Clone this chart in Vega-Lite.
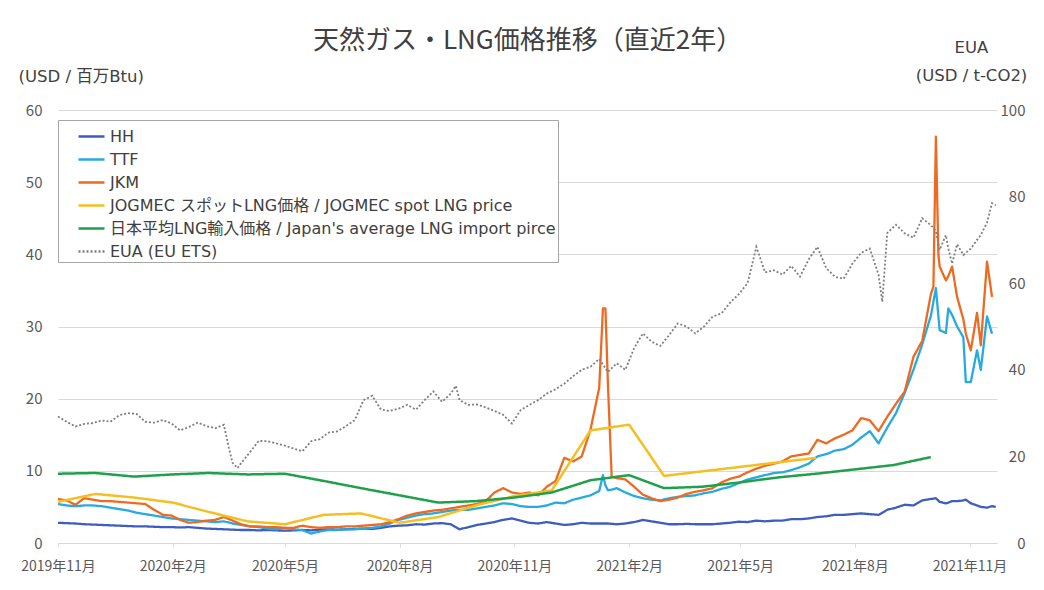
{
  "$schema": "https://vega.github.io/schema/vega-lite/v6.json",
  "width": 939,
  "height": 433,
  "autosize": {"type": "none"},
  "padding": {"left": 58, "top": 110, "right": 47, "bottom": 47},
  "background": "white",
  "title": {"text": "天然ガス・LNG価格推移（直近2年）", "frame": "group", "anchor": "middle", "offset": -15, "fontSize": 26, "fontWeight": "normal", "color": "#404040", "font": "Noto Sans CJK JP"},
  "config": {
    "font": "Noto Sans CJK JP",
    "view": {"stroke": null},
    "legend": {
      "orient": "none", "legendX": 0, "legendY": 10, "direction": "vertical",
      "strokeColor": "#a6a6a6", "fillColor": "white", "padding": 2,
      "symbolType": "stroke", "symbolSize": 676, "symbolStrokeWidth": 2.5, "symbolOffset": 17,
      "labelFont": "DejaVu Sans, Noto Sans CJK JP", "labelFontSize": 16, "labelColor": "#404040", "labelLimit": 700, "labelOffset": 4,
      "rowPadding": -1.5, "cornerRadius": 0
    }
  },
  "datasets": {
    "daily": [
      {"d":"2019-11-01","HH":2.8,"TTF":5.4,"JKM":6.1,"EUA":29.2},
      {"d":"2019-11-08","HH":2.75,"TTF":5.2,"JKM":5.9,"EUA":28.0},
      {"d":"2019-11-15","HH":2.7,"TTF":5.1,"JKM":5.3,"EUA":26.9},
      {"d":"2019-11-22","HH":2.6,"TTF":5.2,"JKM":6.2,"EUA":27.5},
      {"d":"2019-11-29","HH":2.55,"TTF":5.2,"JKM":6.0,"EUA":27.7},
      {"d":"2019-12-06","HH":2.5,"TTF":5.1,"JKM":5.8,"EUA":28.3},
      {"d":"2019-12-13","HH":2.45,"TTF":4.9,"JKM":5.8,"EUA":28.0},
      {"d":"2019-12-20","HH":2.4,"TTF":4.7,"JKM":5.7,"EUA":29.5},
      {"d":"2019-12-27","HH":2.35,"TTF":4.5,"JKM":5.6,"EUA":30.0},
      {"d":"2020-01-03","HH":2.3,"TTF":4.2,"JKM":5.5,"EUA":29.8},
      {"d":"2020-01-10","HH":2.3,"TTF":4.0,"JKM":5.4,"EUA":28.0},
      {"d":"2020-01-17","HH":2.25,"TTF":3.8,"JKM":4.6,"EUA":27.8},
      {"d":"2020-01-24","HH":2.2,"TTF":3.6,"JKM":3.9,"EUA":28.4},
      {"d":"2020-01-31","HH":2.2,"TTF":3.4,"JKM":3.8,"EUA":27.6},
      {"d":"2020-02-07","HH":2.15,"TTF":3.3,"JKM":3.2,"EUA":26.0},
      {"d":"2020-02-14","HH":2.2,"TTF":3.2,"JKM":2.8,"EUA":26.8},
      {"d":"2020-02-21","HH":2.1,"TTF":3.1,"JKM":2.9,"EUA":27.8},
      {"d":"2020-02-28","HH":2.0,"TTF":3.0,"JKM":3.1,"EUA":27.0},
      {"d":"2020-03-06","HH":1.95,"TTF":2.9,"JKM":3.2,"EUA":26.5},
      {"d":"2020-03-13","HH":1.9,"TTF":3.0,"JKM":3.6,"EUA":27.3},
      {"d":"2020-03-17","EUA":22.0},
      {"d":"2020-03-20","HH":1.85,"TTF":2.7,"JKM":3.1,"EUA":18.5},
      {"d":"2020-03-24","EUA":17.3},
      {"d":"2020-03-27","HH":1.8,"TTF":2.5,"JKM":2.6,"EUA":18.5},
      {"d":"2020-04-03","HH":1.8,"TTF":2.3,"JKM":2.3,"EUA":21.0},
      {"d":"2020-04-10","HH":1.75,"TTF":2.2,"JKM":2.3,"EUA":23.6},
      {"d":"2020-04-17","HH":1.8,"TTF":2.0,"JKM":2.2,"EUA":23.5},
      {"d":"2020-04-24","HH":1.75,"TTF":1.9,"JKM":2.2,"EUA":23.0},
      {"d":"2020-05-01","HH":1.7,"TTF":2.1,"JKM":2.1,"EUA":22.5},
      {"d":"2020-05-08","HH":1.75,"TTF":1.9,"JKM":2.1,"EUA":21.8},
      {"d":"2020-05-15","HH":1.8,"TTF":1.8,"JKM":2.4,"EUA":21.2},
      {"d":"2020-05-22","HH":1.75,"TTF":1.3,"JKM":2.2,"EUA":23.5},
      {"d":"2020-05-29","HH":1.85,"TTF":1.6,"JKM":2.1,"EUA":24.0},
      {"d":"2020-06-05","HH":1.9,"TTF":1.8,"JKM":2.2,"EUA":25.5},
      {"d":"2020-06-12","HH":1.85,"TTF":1.8,"JKM":2.2,"EUA":25.8},
      {"d":"2020-06-19","HH":1.9,"TTF":1.9,"JKM":2.3,"EUA":27.0},
      {"d":"2020-06-26","HH":1.95,"TTF":1.9,"JKM":2.3,"EUA":28.4},
      {"d":"2020-07-03","HH":2.0,"TTF":2.0,"JKM":2.4,"EUA":33.0},
      {"d":"2020-07-10","HH":1.95,"TTF":2.1,"JKM":2.5,"EUA":34.0},
      {"d":"2020-07-17","HH":2.1,"TTF":2.3,"JKM":2.6,"EUA":30.8},
      {"d":"2020-07-24","HH":2.3,"TTF":2.7,"JKM":2.9,"EUA":30.5},
      {"d":"2020-07-31","HH":2.4,"TTF":3.2,"JKM":3.3,"EUA":31.0},
      {"d":"2020-08-07","HH":2.45,"TTF":3.5,"JKM":3.8,"EUA":31.9},
      {"d":"2020-08-14","HH":2.6,"TTF":3.8,"JKM":4.1,"EUA":30.8},
      {"d":"2020-08-21","HH":2.55,"TTF":4.0,"JKM":4.3,"EUA":33.0},
      {"d":"2020-08-28","HH":2.7,"TTF":4.1,"JKM":4.5,"EUA":35.0},
      {"d":"2020-09-04","HH":2.75,"TTF":4.3,"JKM":4.6,"EUA":32.6},
      {"d":"2020-09-11","HH":2.6,"TTF":4.5,"JKM":4.8,"EUA":34.5},
      {"d":"2020-09-15","EUA":36.3},
      {"d":"2020-09-18","HH":1.9,"TTF":4.6,"JKM":5.0,"EUA":33.0},
      {"d":"2020-09-25","HH":2.2,"TTF":4.6,"JKM":5.2,"EUA":31.9},
      {"d":"2020-10-02","HH":2.5,"TTF":4.8,"JKM":5.4,"EUA":32.0},
      {"d":"2020-10-09","HH":2.7,"TTF":5.0,"JKM":5.8,"EUA":31.3},
      {"d":"2020-10-16","HH":2.9,"TTF":5.2,"JKM":7.0,"EUA":30.5},
      {"d":"2020-10-23","HH":3.2,"TTF":5.5,"JKM":7.6,"EUA":29.6},
      {"d":"2020-10-30","HH":3.4,"TTF":5.4,"JKM":7.0,"EUA":27.6},
      {"d":"2020-11-06","HH":3.1,"TTF":5.1,"JKM":6.8,"EUA":30.7},
      {"d":"2020-11-13","HH":2.8,"TTF":5.0,"JKM":7.0,"EUA":31.9},
      {"d":"2020-11-20","HH":2.7,"TTF":5.0,"JKM":6.6,"EUA":33.0},
      {"d":"2020-11-27","HH":2.9,"TTF":5.2,"JKM":7.8,"EUA":34.5},
      {"d":"2020-12-04","HH":2.7,"TTF":5.6,"JKM":8.6,"EUA":35.5},
      {"d":"2020-12-11","HH":2.5,"TTF":5.5,"JKM":11.8,"EUA":36.8},
      {"d":"2020-12-18","HH":2.6,"TTF":6.0,"JKM":11.3,"EUA":38.5},
      {"d":"2020-12-25","HH":2.8,"TTF":6.3,"JKM":12.0,"EUA":40.0},
      {"d":"2021-01-01","HH":2.7,"TTF":6.6,"JKM":15.7,"EUA":40.7},
      {"d":"2021-01-08","HH":2.7,"TTF":7.2,"JKM":21.5,"EUA":42.5},
      {"d":"2021-01-11","TTF":9.4,"JKM":32.5},
      {"d":"2021-01-13","TTF":8.0,"JKM":32.5},
      {"d":"2021-01-15","HH":2.7,"TTF":7.3,"JKM":22.0,"EUA":39.5},
      {"d":"2021-01-18","TTF":7.4,"JKM":9.2},
      {"d":"2021-01-22","HH":2.6,"TTF":7.6,"JKM":9.0,"EUA":41.5},
      {"d":"2021-01-29","HH":2.7,"TTF":7.0,"JKM":8.8,"EUA":40.0},
      {"d":"2021-02-05","HH":2.9,"TTF":6.5,"JKM":7.8,"EUA":45.0},
      {"d":"2021-02-12","HH":3.2,"TTF":6.2,"JKM":6.7,"EUA":48.4},
      {"d":"2021-02-19","HH":3.0,"TTF":6.0,"JKM":6.2,"EUA":46.5},
      {"d":"2021-02-26","HH":2.8,"TTF":5.9,"JKM":5.8,"EUA":45.5},
      {"d":"2021-03-05","HH":2.6,"TTF":6.2,"JKM":6.0,"EUA":48.0},
      {"d":"2021-03-12","HH":2.6,"TTF":6.4,"JKM":6.3,"EUA":50.7},
      {"d":"2021-03-19","HH":2.65,"TTF":6.5,"JKM":6.8,"EUA":50.0},
      {"d":"2021-03-26","HH":2.6,"TTF":6.6,"JKM":7.1,"EUA":48.4},
      {"d":"2021-04-02","HH":2.6,"TTF":6.9,"JKM":7.3,"EUA":50.0},
      {"d":"2021-04-09","HH":2.6,"TTF":7.1,"JKM":7.6,"EUA":52.3},
      {"d":"2021-04-16","HH":2.7,"TTF":7.5,"JKM":8.4,"EUA":53.0},
      {"d":"2021-04-23","HH":2.8,"TTF":7.8,"JKM":8.9,"EUA":55.5},
      {"d":"2021-04-30","HH":2.95,"TTF":8.3,"JKM":9.2,"EUA":57.5},
      {"d":"2021-05-07","HH":2.9,"TTF":8.8,"JKM":9.8,"EUA":60.0},
      {"d":"2021-05-14","HH":3.1,"TTF":9.1,"JKM":10.3,"EUA":68.4},
      {"d":"2021-05-21","HH":3.0,"TTF":9.4,"JKM":10.7,"EUA":62.5},
      {"d":"2021-05-28","HH":3.1,"TTF":9.7,"JKM":11.0,"EUA":63.0},
      {"d":"2021-06-04","HH":3.1,"TTF":9.8,"JKM":11.3,"EUA":62.0},
      {"d":"2021-06-11","HH":3.3,"TTF":10.1,"JKM":12.0,"EUA":64.0},
      {"d":"2021-06-18","HH":3.3,"TTF":10.5,"JKM":12.2,"EUA":61.5},
      {"d":"2021-06-25","HH":3.4,"TTF":11.0,"JKM":12.4,"EUA":65.5},
      {"d":"2021-07-02","HH":3.6,"TTF":12.0,"JKM":14.3,"EUA":68.4},
      {"d":"2021-07-09","HH":3.7,"TTF":12.3,"JKM":13.8,"EUA":63.5},
      {"d":"2021-07-16","HH":3.9,"TTF":12.8,"JKM":14.5,"EUA":61.5},
      {"d":"2021-07-23","HH":3.9,"TTF":13.0,"JKM":15.0,"EUA":61.0},
      {"d":"2021-07-30","HH":4.0,"TTF":13.6,"JKM":15.6,"EUA":64.5},
      {"d":"2021-08-06","HH":4.1,"TTF":14.6,"JKM":17.3,"EUA":67.0},
      {"d":"2021-08-13","HH":4.0,"TTF":15.5,"JKM":17.0,"EUA":68.0},
      {"d":"2021-08-20","HH":3.9,"TTF":13.8,"JKM":15.5,"EUA":62.0},
      {"d":"2021-08-23","EUA":55.7},
      {"d":"2021-08-27","HH":4.6,"TTF":16.0,"JKM":17.5,"EUA":71.6},
      {"d":"2021-09-03","HH":4.9,"TTF":18.0,"JKM":19.3,"EUA":73.5},
      {"d":"2021-09-10","HH":5.3,"TTF":20.8,"JKM":21.0,"EUA":71.5},
      {"d":"2021-09-17","HH":5.2,"TTF":24.0,"JKM":25.8,"EUA":70.5},
      {"d":"2021-09-24","HH":5.9,"TTF":27.5,"JKM":28.0,"EUA":75.0},
      {"d":"2021-10-01","HH":6.1,"TTF":31.5,"JKM":34.5,"EUA":73.4},
      {"d":"2021-10-03","JKM":35.5},
      {"d":"2021-10-05","HH":6.2,"TTF":35.3,"JKM":56.3,"EUA":72.0},
      {"d":"2021-10-07","JKM":40.0},
      {"d":"2021-10-08","HH":5.7,"TTF":29.5,"JKM":38.3,"EUA":67.7},
      {"d":"2021-10-13","HH":5.5,"TTF":29.1,"JKM":36.4,"EUA":71.1},
      {"d":"2021-10-15","HH":5.6,"TTF":32.5,"JKM":37.0,"EUA":68.0},
      {"d":"2021-10-18","HH":5.8,"TTF":31.6,"JKM":38.3,"EUA":64.5},
      {"d":"2021-10-22","HH":5.8,"TTF":30.0,"JKM":34.1,"EUA":69.0},
      {"d":"2021-10-27","HH":5.9,"TTF":28.5,"JKM":31.0,"EUA":66.5},
      {"d":"2021-10-29","HH":6.0,"TTF":22.3,"JKM":29.0,"EUA":67.0},
      {"d":"2021-11-02","HH":5.5,"TTF":22.3,"JKM":26.7,"EUA":68.0},
      {"d":"2021-11-07","HH":5.2,"TTF":26.7,"JKM":31.9,"EUA":70.0},
      {"d":"2021-11-10","HH":5.0,"TTF":24.0,"JKM":27.4,"EUA":71.1},
      {"d":"2021-11-15","HH":4.9,"TTF":31.4,"JKM":39.0,"EUA":74.0},
      {"d":"2021-11-19","HH":5.1,"TTF":29.0,"JKM":34.1,"EUA":78.5},
      {"d":"2021-11-22","HH":5.0,"EUA":78.0}
    ],
    "monthly": [
      {"d":"2019-11-01","series":"JOGMEC スポットLNG価格 / JOGMEC spot LNG price","value":5.7},
      {"d":"2019-12-01","series":"JOGMEC スポットLNG価格 / JOGMEC spot LNG price","value":6.8},
      {"d":"2020-01-01","series":"JOGMEC スポットLNG価格 / JOGMEC spot LNG price","value":6.3},
      {"d":"2020-02-01","series":"JOGMEC スポットLNG価格 / JOGMEC spot LNG price","value":5.6},
      {"d":"2020-03-01","series":"JOGMEC スポットLNG価格 / JOGMEC spot LNG price","value":4.3},
      {"d":"2020-04-01","series":"JOGMEC スポットLNG価格 / JOGMEC spot LNG price","value":3.0},
      {"d":"2020-05-01","series":"JOGMEC スポットLNG価格 / JOGMEC spot LNG price","value":2.6},
      {"d":"2020-06-01","series":"JOGMEC スポットLNG価格 / JOGMEC spot LNG price","value":3.9},
      {"d":"2020-07-01","series":"JOGMEC スポットLNG価格 / JOGMEC spot LNG price","value":4.1},
      {"d":"2020-08-01","series":"JOGMEC スポットLNG価格 / JOGMEC spot LNG price","value":2.8},
      {"d":"2020-09-01","series":"JOGMEC スポットLNG価格 / JOGMEC spot LNG price","value":3.6},
      {"d":"2020-10-01","series":"JOGMEC スポットLNG価格 / JOGMEC spot LNG price","value":5.2},
      {"d":"2020-11-01","series":"JOGMEC スポットLNG価格 / JOGMEC spot LNG price","value":6.5},
      {"d":"2020-12-01","series":"JOGMEC スポットLNG価格 / JOGMEC spot LNG price","value":7.3},
      {"d":"2021-01-01","series":"JOGMEC スポットLNG価格 / JOGMEC spot LNG price","value":15.6},
      {"d":"2021-02-01","series":"JOGMEC スポットLNG価格 / JOGMEC spot LNG price","value":16.4},
      {"d":"2021-03-01","series":"JOGMEC スポットLNG価格 / JOGMEC spot LNG price","value":9.3},
      {"d":"2021-07-01","series":"JOGMEC スポットLNG価格 / JOGMEC spot LNG price","value":11.8},
      {"d":"2019-11-01","series":"日本平均LNG輸入価格 / Japan's average LNG import pirce","value":9.6},
      {"d":"2019-12-01","series":"日本平均LNG輸入価格 / Japan's average LNG import pirce","value":9.7},
      {"d":"2020-01-01","series":"日本平均LNG輸入価格 / Japan's average LNG import pirce","value":9.2},
      {"d":"2020-02-01","series":"日本平均LNG輸入価格 / Japan's average LNG import pirce","value":9.5},
      {"d":"2020-03-01","series":"日本平均LNG輸入価格 / Japan's average LNG import pirce","value":9.7},
      {"d":"2020-04-01","series":"日本平均LNG輸入価格 / Japan's average LNG import pirce","value":9.5},
      {"d":"2020-05-01","series":"日本平均LNG輸入価格 / Japan's average LNG import pirce","value":9.6},
      {"d":"2020-06-01","series":"日本平均LNG輸入価格 / Japan's average LNG import pirce","value":8.6},
      {"d":"2020-07-01","series":"日本平均LNG輸入価格 / Japan's average LNG import pirce","value":7.6},
      {"d":"2020-08-01","series":"日本平均LNG輸入価格 / Japan's average LNG import pirce","value":6.6},
      {"d":"2020-09-01","series":"日本平均LNG輸入価格 / Japan's average LNG import pirce","value":5.6},
      {"d":"2020-10-01","series":"日本平均LNG輸入価格 / Japan's average LNG import pirce","value":5.8},
      {"d":"2020-11-01","series":"日本平均LNG輸入価格 / Japan's average LNG import pirce","value":6.3},
      {"d":"2020-12-01","series":"日本平均LNG輸入価格 / Japan's average LNG import pirce","value":7.0},
      {"d":"2021-01-01","series":"日本平均LNG輸入価格 / Japan's average LNG import pirce","value":8.7},
      {"d":"2021-02-01","series":"日本平均LNG輸入価格 / Japan's average LNG import pirce","value":9.4},
      {"d":"2021-03-01","series":"日本平均LNG輸入価格 / Japan's average LNG import pirce","value":7.6},
      {"d":"2021-04-01","series":"日本平均LNG輸入価格 / Japan's average LNG import pirce","value":7.8},
      {"d":"2021-05-01","series":"日本平均LNG輸入価格 / Japan's average LNG import pirce","value":8.4},
      {"d":"2021-06-01","series":"日本平均LNG輸入価格 / Japan's average LNG import pirce","value":9.1},
      {"d":"2021-07-01","series":"日本平均LNG輸入価格 / Japan's average LNG import pirce","value":9.6},
      {"d":"2021-08-01","series":"日本平均LNG輸入価格 / Japan's average LNG import pirce","value":10.2},
      {"d":"2021-09-01","series":"日本平均LNG輸入価格 / Japan's average LNG import pirce","value":10.8},
      {"d":"2021-10-01","series":"日本平均LNG輸入価格 / Japan's average LNG import pirce","value":11.9}
    ]
  },
  "encoding": {
    "x": {
      "field": "d", "type": "temporal",
      "scale": {"type": "utc", "domain": [{"year":2019,"month":11,"date":1,"utc":true},{"year":2021,"month":11,"date":23,"utc":true}]},
      "axis": {
        "title": null,
        "values": [
          {"year":2019,"month":11,"date":1,"utc":true},
          {"year":2020,"month":2,"date":1,"utc":true},
          {"year":2020,"month":5,"date":1,"utc":true},
          {"year":2020,"month":8,"date":1,"utc":true},
          {"year":2020,"month":11,"date":1,"utc":true},
          {"year":2021,"month":2,"date":1,"utc":true},
          {"year":2021,"month":5,"date":1,"utc":true},
          {"year":2021,"month":8,"date":1,"utc":true},
          {"year":2021,"month":11,"date":1,"utc":true}
        ],
        "labelExpr": "utcFormat(datum.value, '%Y年%-m月')",
        "grid": false, "domain": true, "domainColor": "#d9d9d9", "ticks": true, "tickColor": "#d9d9d9", "tickSize": 4,
        "labelFontSize": 14, "labelColor": "#595959", "labelPadding": 12, "labelFlush": false, "labelOverlap": false
      }
    },
    "color": {
      "field": "series", "type": "nominal",
      "scale": {
        "domain": ["HH", "TTF", "JKM", "JOGMEC スポットLNG価格 / JOGMEC spot LNG price", "日本平均LNG輸入価格 / Japan's average LNG import pirce", "EUA"],
        "range": ["#3D5DBF", "#27A9E1", "#EE6A22", "#F5BF22", "#1FA04A", "#7F7F7F"]
      },
      "legend": {"title": null, "labelExpr": "datum.label == 'EUA' ? 'EUA (EU ETS)' : datum.label"}
    },
    "strokeDash": {
      "field": "series", "type": "nominal",
      "scale": {
        "domain": ["HH", "TTF", "JKM", "JOGMEC スポットLNG価格 / JOGMEC spot LNG price", "日本平均LNG輸入価格 / Japan's average LNG import pirce", "EUA"],
        "range": [[1,0],[1,0],[1,0],[1,0],[1,0],[2,2]]
      },
      "legend": {"title": null, "labelExpr": "datum.label == 'EUA' ? 'EUA (EU ETS)' : datum.label"}
    }
  },
  "layer": [
    {
      "encoding": {
        "y": {
          "field": "value", "type": "quantitative",
          "scale": {"domain": [0, 60], "nice": false},
          "axis": {
            "orient": "left", "values": [0,10,20,30,40,50,60],
            "grid": true, "gridColor": "#d9d9d9", "gridWidth": 1, "domain": false, "ticks": false,
            "labelFontSize": 15, "labelColor": "#595959", "labelPadding": 16,
            "title": "(USD / 百万Btu)", "titleAngle": 0, "titleAlign": "left", "titleBaseline": "middle",
            "titleX": -40, "titleY": -34, "titleFont": "DejaVu Sans, Noto Sans CJK JP", "titleFontSize": 16.5, "titleFontWeight": "normal", "titleColor": "#404040"
          }
        }
      },
      "layer": [
        {
          "data": {"name": "daily"},
          "transform": [
            {"fold": ["HH", "TTF", "JKM"], "as": ["series", "value"]},
            {"filter": "isNumber(datum.value)"}
          ],
          "mark": {"type": "line", "strokeWidth": 2.3, "strokeJoin": "round"}
        },
        {
          "data": {"name": "monthly"},
          "mark": {"type": "line", "strokeWidth": 2.5, "strokeJoin": "round"}
        }
      ]
    },
    {
      "data": {"name": "daily"},
      "transform": [
        {"fold": ["EUA"], "as": ["series", "value"]},
        {"filter": "isNumber(datum.value)"}
      ],
      "mark": {"type": "line", "strokeWidth": 1.8, "strokeCap": "butt"},
      "encoding": {
        "y": {
          "field": "value", "type": "quantitative",
          "scale": {"domain": [0, 100], "nice": false},
          "axis": {
            "orient": "right", "values": [0,20,40,60,80,100],
            "grid": false, "domain": false, "ticks": false,
            "labelFontSize": 15, "labelColor": "#595959", "labelAlign": "right", "labelPadding": 28,
            "title": ["EUA", "(USD / t-CO2)"], "titleAngle": 0, "titleAlign": "center", "titleBaseline": "top",
            "titleX": -26, "titleY": -71, "titleLineHeight": 28, "titleFont": "DejaVu Sans, Noto Sans CJK JP", "titleFontSize": 16.5, "titleFontWeight": "normal", "titleColor": "#404040"
          }
        }
      }
    }
  ],
  "resolve": {"scale": {"y": "independent"}}
}
